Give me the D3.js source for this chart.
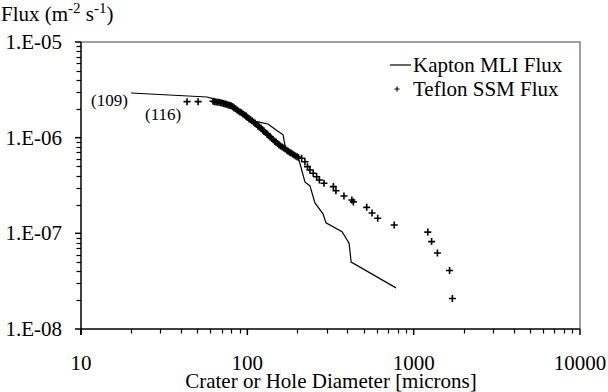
<!DOCTYPE html>
<html>
<head>
<meta charset="utf-8">
<script src="https://cdn.jsdelivr.net/npm/d3@7"></script>
<style>
  body { margin: 0; background: #fff; }
  text { font-family: "Liberation Serif", "Times New Roman", serif; fill: #000; }
</style>
</head>
<body>
<div id="chart"></div>
<script>
// Kapton MLI cumulative flux (line)
var kaptonDiam = [20.0, 57.3, 65.8, 82.0, 90.4, 99.5, 116, 133, 149, 164, 169, 181, 202, 207, 222, 238, 255, 285, 297, 371, 409, 421, 783];
var kaptonFlux = [2.93e-6, 2.66e-6, 2.48e-6, 2.25e-6, 1.81e-6, 1.53e-6, 1.46e-6, 1.39e-6, 1.20e-6, 1.07e-6, 8.0e-7, 6.9e-7, 6.1e-7, 5.4e-7, 3.45e-7, 3.13e-7, 2.08e-7, 1.60e-7, 1.29e-7, 1.04e-7, 7.9e-8, 5.0e-8, 2.69e-8];

// Teflon SSM cumulative flux (crosses)
var teflonDiam = [43.4, 50.6,
  62.2, 63.5, 64.9, 66.2, 67.6, 69, 70.5, 72, 73.5, 75, 76.6, 78, 79.8, 81.5, 83.2, 85, 86.7, 88.5,
  90.4, 92.3, 94.2, 96.2, 98.2, 100.3, 102.4, 104.5, 106.7, 109, 111.2, 113.5, 115.9, 118.3,
  120.8, 123.3, 125.9, 128.5, 131.2, 134, 137, 140, 143, 146, 149, 152, 155, 158.5, 162, 165.5,
  169, 172.5, 176, 179.5, 183, 187, 191, 195, 199, 203,
  212, 222, 230, 238, 249, 261, 271, 289, 329, 341, 381, 425, 434, 522, 562, 608, 764,
  1216, 1282, 1389, 1644, 1709];
var teflonFlux = [2.38e-6, 2.38e-6,
  2.40e-6, 2.38e-6, 2.36e-6, 2.35e-6, 2.34e-6, 2.32e-6, 2.31e-6, 2.28e-6, 2.25e-6, 2.23e-6, 2.20e-6, 2.18e-6, 2.15e-6, 2.10e-6, 2.04e-6, 2.00e-6, 1.95e-6, 1.90e-6,
  1.86e-6, 1.82e-6, 1.77e-6, 1.73e-6, 1.69e-6, 1.63e-6, 1.57e-6, 1.54e-6, 1.50e-6, 1.46e-6, 1.42e-6, 1.37e-6, 1.32e-6, 1.29e-6,
  1.26e-6, 1.21e-6, 1.17e-6, 1.13e-6, 1.09e-6, 1.06e-6, 1.02e-6, 9.8e-7, 9.5e-7, 9.2e-7, 9.0e-7, 8.7e-7, 8.4e-7, 8.2e-7, 8.0e-7, 7.8e-7,
  7.6e-7, 7.4e-7, 7.2e-7, 7.05e-7, 6.9e-7, 6.75e-7, 6.6e-7, 6.45e-7, 6.3e-7, 6.2e-7,
  6.09e-7, 5.61e-7, 4.98e-7, 4.60e-7, 4.25e-7, 3.91e-7, 3.61e-7, 3.34e-7, 3.08e-7, 2.79e-7, 2.46e-7, 2.23e-7, 2.13e-7, 1.87e-7, 1.63e-7, 1.44e-7, 1.22e-7,
  1.03e-7, 8.2e-8, 6.24e-8, 4.09e-8, 2.08e-8];

var xTickValues = [10, 100, 1000, 10000];
var xTickLabels = ["10", "100", "1000", "10000"];
var yTickValues = [1e-8, 1e-7, 1e-6, 1e-5];
var yTickLabels = ["1.E-08", "1.E-07", "1.E-06", "1.E-05"];
var seriesNames = ["Kapton MLI Flux", "Teflon SSM Flux"];

var width = 608, height = 392;
//plot area edges (note: "top" is reserved on window, so use other names)
var plotL = 81, plotR = 580, plotT = 42, plotB = 329;

var svg = d3.select("#chart").append("svg")
  .attr("width", width)
  .attr("height", height);

var x = d3.scaleLog().domain([10, 10000]).range([plotL, plotR]);
var y = d3.scaleLog().domain([1e-8, 1e-5]).range([plotB, plotT]);

// plot frame (top and right in grey)
svg.append("path")
  .attr("d", "M" + plotL + "," + plotT + "H" + plotR + "V" + plotB)
  .attr("fill", "none")
  .attr("stroke", "#808080")
  .attr("stroke-width", 1.5);

// minor tick values for both axes
function minors(lo, hi) {
  var out = [];
  for (var e = lo; e < hi; e++) {
    for (var m = 2; m <= 9; m++) out.push(m * Math.pow(10, e));
  }
  return out;
}

// y axis
var yAxis = svg.append("g").attr("transform", "translate(" + plotL + ",0)");
yAxis.append("line").attr("x1", 0).attr("x2", 0).attr("y1", plotT).attr("y2", plotB + 6)
  .attr("stroke", "#000").attr("stroke-width", 1.5);
yAxis.selectAll(".ymin").data(minors(-8, -5)).enter().append("line")
  .attr("x1", -4.5).attr("x2", 0)
  .attr("y1", function(d) { return Math.round(y(d)) + 0.5; })
  .attr("y2", function(d) { return Math.round(y(d)) + 0.5; })
  .attr("stroke", "#000").attr("stroke-width", 1.2);
yAxis.selectAll(".ymaj").data(yTickValues).enter().append("line")
  .attr("x1", -6).attr("x2", 0)
  .attr("y1", function(d) { return y(d); })
  .attr("y2", function(d) { return y(d); })
  .attr("stroke", "#000").attr("stroke-width", 1.5);
yAxis.selectAll(".ylab").data(yTickValues).enter().append("text")
  .attr("x", -19).attr("y", function(d) { return y(d) + 7; })
  .attr("text-anchor", "end")
  .style("font-size", "21px")
  .text(function(d, i) { return yTickLabels[i]; });

// x axis
var xAxis = svg.append("g").attr("transform", "translate(0," + plotB + ")");
xAxis.append("line").attr("x1", plotL).attr("x2", plotR).attr("y1", 0).attr("y2", 0)
  .attr("stroke", "#000").attr("stroke-width", 1.5);
xAxis.selectAll(".xmin").data(minors(1, 4)).enter().append("line")
  .attr("y1", 0).attr("y2", 4.5)
  .attr("x1", function(d) { return Math.round(x(d)) + 0.5; })
  .attr("x2", function(d) { return Math.round(x(d)) + 0.5; })
  .attr("stroke", "#000").attr("stroke-width", 1.2);
xAxis.selectAll(".xmaj").data(xTickValues).enter().append("line")
  .attr("y1", 0).attr("y2", 6)
  .attr("x1", function(d) { return x(d); })
  .attr("x2", function(d) { return x(d); })
  .attr("stroke", "#000").attr("stroke-width", 1.5);
xAxis.selectAll(".xlab").data(xTickValues).enter().append("text")
  .attr("x", function(d) { return x(d); }).attr("y", 41)
  .attr("text-anchor", "middle")
  .style("font-size", "21px")
  .text(function(d, i) { return xTickLabels[i]; });

// axis titles
svg.append("text")
  .attr("x", 331).attr("y", 388)
  .attr("text-anchor", "middle")
  .style("font-size", "21px")
  .text("Crater or Hole Diameter [microns]");

var yTitle = svg.append("text").attr("x", 1).attr("y", 21).style("font-size", "21px");
yTitle.append("tspan").text("Flux (m");
yTitle.append("tspan").attr("dy", -8).style("font-size", "15px").text("-2");
yTitle.append("tspan").attr("dy", 8).text(" s");
yTitle.append("tspan").attr("dy", -8).style("font-size", "15px").text("-1");
yTitle.append("tspan").attr("dy", 8).text(")");

// Kapton line
var kapton = kaptonDiam.map(function(d, i) { return [d, kaptonFlux[i]]; });
var line = d3.line().x(function(d) { return x(d[0]); }).y(function(d) { return y(d[1]); });
svg.append("path")
  .datum(kapton)
  .attr("d", line)
  .attr("fill", "none")
  .attr("stroke", "#000")
  .attr("stroke-width", 1.2);

// Teflon crosses
var plus = "M-3.5,0H3.5M0,-3.5V3.5";
svg.selectAll(".teflon").data(teflonDiam).enter().append("path")
  .attr("d", plus)
  .attr("transform", function(d, i) { return "translate(" + x(d) + "," + y(teflonFlux[i]) + ")"; })
  .attr("stroke", "#000")
  .attr("stroke-width", 1.6)
  .attr("fill", "none");

// sample counts
svg.append("text").attr("x", 91).attr("y", 106).style("font-size", "17px").text("(109)");
svg.append("text").attr("x", 145).attr("y", 120).style("font-size", "17px").text("(116)");

// legend
var legend = svg.append("g");
legend.append("line").attr("x1", 390).attr("x2", 411).attr("y1", 65).attr("y2", 65)
  .attr("stroke", "#000").attr("stroke-width", 1.2);
legend.append("text").attr("x", 413).attr("y", 72).style("font-size", "21px").text(seriesNames[0]);
legend.append("path").attr("d", "M-2.5,0H2.5M0,-2.5V2.5")
  .attr("transform", "translate(397,89)")
  .attr("stroke", "#000").attr("stroke-width", 1.2);
legend.append("text").attr("x", 413).attr("y", 96).style("font-size", "21px").text(seriesNames[1]);
</script>
</body>
</html>
